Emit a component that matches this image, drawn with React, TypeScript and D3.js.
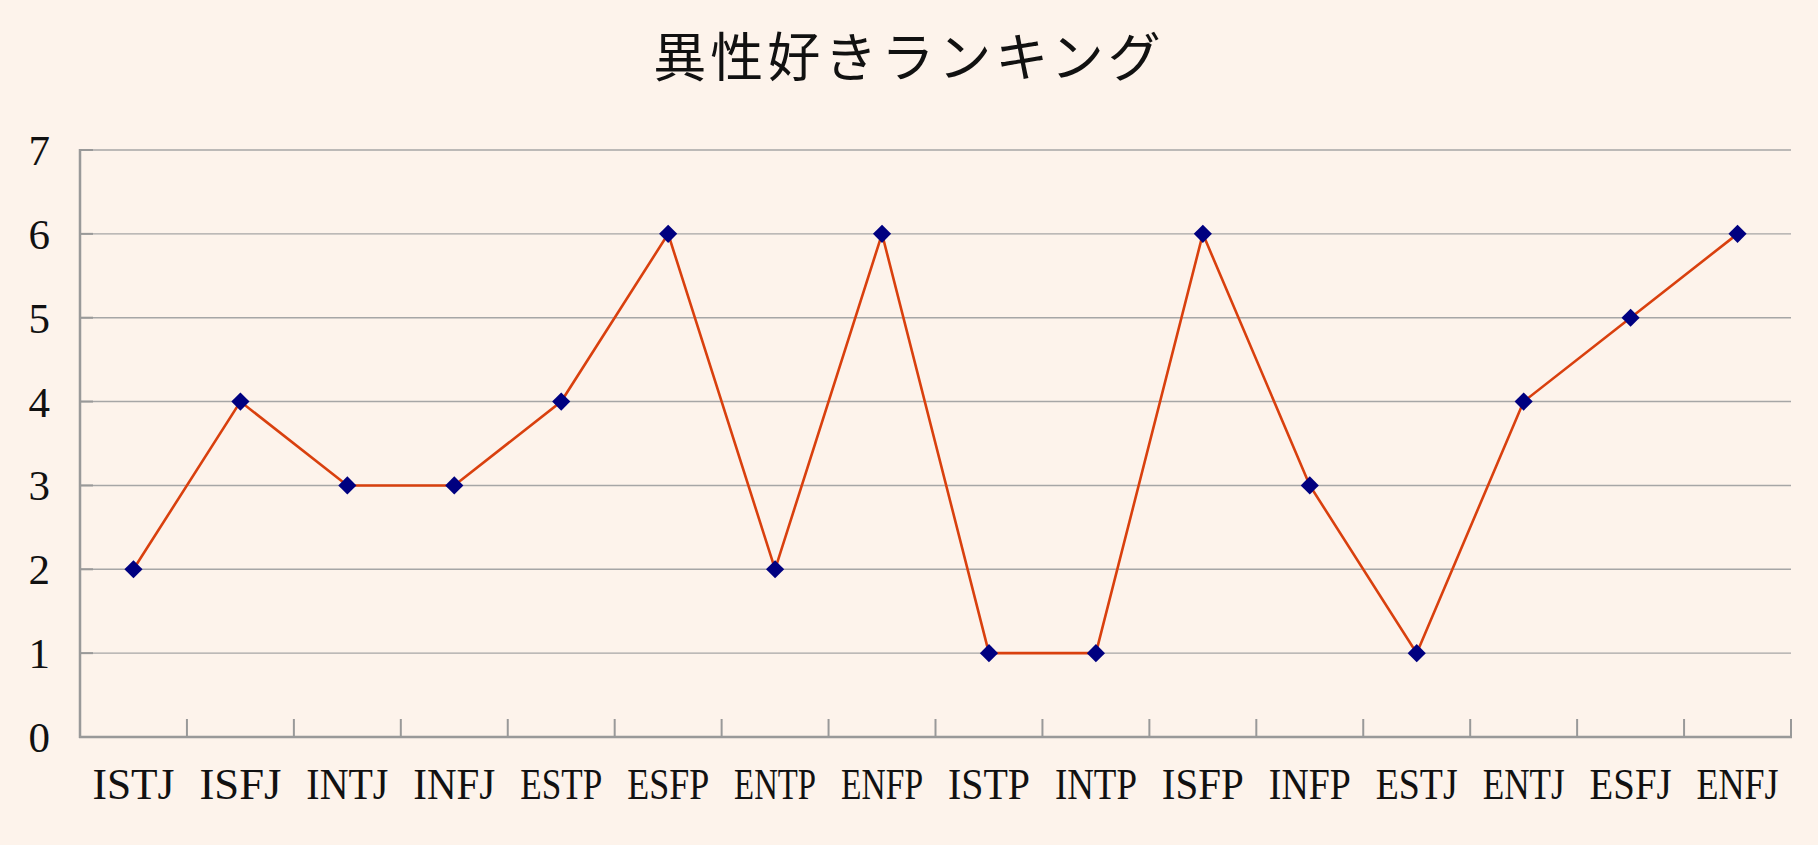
import React, { useEffect, useRef } from "react";
import * as d3 from "d3";

const categories = ["ISTJ", "ISFJ", "INTJ", "INFJ", "ESTP", "ESFP", "ENTP", "ENFP", "ISTP", "INTP", "ISFP", "INFP", "ESTJ", "ENTJ", "ESFJ", "ENFJ"];
const values = [2, 4, 3, 3, 4, 6, 2, 6, 1, 1, 6, 3, 1, 4, 5, 6];
const yTicks = [0, 1, 2, 3, 4, 5, 6, 7];
const title = "異性好きランキング";

const W = 1818;
const H = 845;
const M = { left: 80, right: 1791, top: 150, bottom: 737 };

export default function App() {
  const ref = useRef<SVGSVGElement | null>(null);

  useEffect(() => {
    document.body.style.margin = "0";
    const svg = d3.select(ref.current);
    svg.selectAll("*").remove();

    svg.append("rect").attr("width", W).attr("height", H).attr("fill", "#fdf3eb");

    const x = d3.scaleBand<string>().domain(categories).range([M.left, M.right]);
    const y = d3.scaleLinear().domain([0, 7]).range([M.bottom, M.top]);

    // gridlines
    svg.append("g")
      .selectAll("line")
      .data(yTicks.filter((t) => t > 0))
      .join("line")
      .attr("x1", M.left)
      .attr("x2", M.right)
      .attr("y1", (d) => y(d))
      .attr("y2", (d) => y(d))
      .attr("stroke", "#a6a6a6")
      .attr("stroke-width", 1.4);

    // y ticks (inward)
    svg.append("g")
      .selectAll("line")
      .data(yTicks)
      .join("line")
      .attr("x1", M.left)
      .attr("x2", M.left + 13)
      .attr("y1", (d) => y(d))
      .attr("y2", (d) => y(d))
      .attr("stroke", "#999")
      .attr("stroke-width", 2);

    // x ticks (upward) at band boundaries
    const bounds = categories.map((c) => (x(c) as number) + x.bandwidth());
    svg.append("g")
      .selectAll("line")
      .data(bounds)
      .join("line")
      .attr("x1", (d) => d)
      .attr("x2", (d) => d)
      .attr("y1", M.bottom)
      .attr("y2", M.bottom - 18)
      .attr("stroke", "#999")
      .attr("stroke-width", 2);

    // axes
    svg.append("line")
      .attr("x1", M.left).attr("x2", M.left)
      .attr("y1", M.top - 1).attr("y2", M.bottom + 1)
      .attr("stroke", "#999").attr("stroke-width", 2.5);
    svg.append("line")
      .attr("x1", M.left - 1).attr("x2", M.right + 1)
      .attr("y1", M.bottom).attr("y2", M.bottom)
      .attr("stroke", "#999").attr("stroke-width", 2.5);

    const font = "'Liberation Serif', 'DejaVu Serif', serif";

    // y labels
    svg.append("g")
      .selectAll("text")
      .data(yTicks)
      .join("text")
      .attr("x", 50)
      .attr("y", (d) => y(d))
      .attr("dy", "0.35em")
      .attr("text-anchor", "end")
      .attr("font-family", font)
      .attr("font-size", 43)
      .attr("fill", "#111")
      .text((d) => String(d));

    // x labels
    svg.append("g")
      .selectAll("text")
      .data(categories)
      .join("text")
      .attr("x", (d) => (x(d) as number) + x.bandwidth() / 2 - 41)
      .attr("y", 799)
      .attr("text-anchor", "start")
      .attr("font-family", font)
      .attr("font-size", 44)
      .attr("textLength", 82)
      .attr("lengthAdjust", "spacingAndGlyphs")
      .attr("fill", "#111")
      .text((d) => d);

    // line
    const cx = (i: number) => (x(categories[i]) as number) + x.bandwidth() / 2;
    const line = d3.line<number>().x((_, i) => cx(i)).y((d) => y(d));
    svg.append("path")
      .datum(values)
      .attr("d", line)
      .attr("fill", "none")
      .attr("stroke", "#d9400e")
      .attr("stroke-width", 2.6);

    // markers
    const sym = d3.symbol().type(d3.symbolSquare).size(165);
    svg.append("g")
      .selectAll("path")
      .data(values)
      .join("path")
      .attr("d", sym as any)
      .attr("transform", (d, i) => `translate(${cx(i)},${y(d)}) rotate(45)`)
      .attr("fill", "#000080");

    // title
    svg.append("text")
      .attr("x", W / 2)
      .attr("y", 58)
      .attr("dy", "0.35em")
      .attr("text-anchor", "middle")
      .attr("font-family", "'Noto Sans CJK JP', sans-serif")
      .attr("font-size", 53)
      .attr("letter-spacing", 4)
      .attr("fill", "#111")
      .text(title);
  }, []);

  return (
    <svg
      ref={ref}
      width={W}
      height={H}
      style={{ position: "absolute", left: 0, top: 0, display: "block" }}
    />
  );
}
